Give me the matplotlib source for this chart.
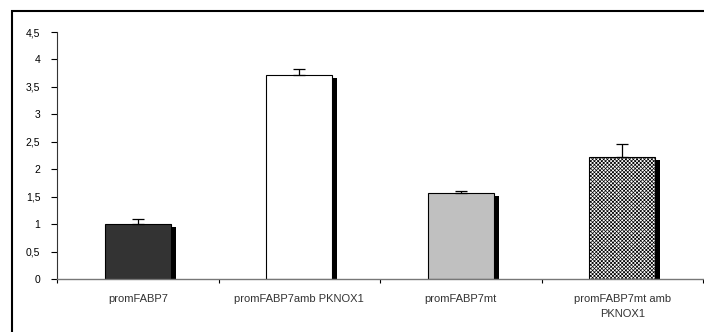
import matplotlib.pyplot as plt
from matplotlib.patches import Rectangle
import numpy as np

# data
labels = ['promFABP7', 'promFABP7amb PKNOX1', 'promFABP7mt', 'promFABP7mt amb\nPKNOX1']
values = [1.0, 3.71, 1.57, 2.22]
errors = [0.09, 0.12, 0.04, 0.24]
colors = ['#333333', '#ffffff', '#c0c0c0', '#ffffff']
hatches = [None, None, None, 'xxxxxxxxx']

plt.rcParams['font.family'] = ['Liberation Sans', 'DejaVu Sans']
plt.rcParams['hatch.color'] = '#a8a8a8'
plt.rcParams['hatch.linewidth'] = 0.5

fig = plt.figure(figsize=(7.04, 3.32), dpi=100)
ax = fig.add_axes([57/704, 53/332, 646/704, 247/332])

x = np.arange(len(values)) + 0.5
w = 0.41

# shadows
ax.bar(x + 0.03, np.array(values) - 0.05, width=w, bottom=0, color='black', zorder=1)
# bars
for xi, v, c, h in zip(x, values, colors, hatches):
    ax.bar(xi, v, width=w, color=c, edgecolor='black', linewidth=0.8, hatch=h, zorder=2)
ax.errorbar(x, values, yerr=[np.zeros(len(errors)), errors], fmt='none',
            ecolor='black', elinewidth=0.9, capsize=4, capthick=0.9, zorder=3)

ax.set_xlim(0, 4)
ax.set_ylim(0, 4.5)
ax.set_yticks(np.arange(0, 4.51, 0.5))
ax.set_yticklabels([('%g' % t).replace('.', ',') for t in np.arange(0, 4.51, 0.5)], fontsize=7.5)
ax.set_xticks(x)
ax.set_xticklabels(labels, fontsize=8, color='#333333', linespacing=1.6)
ax.set_xticks(np.arange(0, 5), minor=True)
ax.tick_params(axis='x', which='major', length=0, pad=11)
ax.tick_params(axis='x', which='minor', length=3, width=0.8, direction='out')
ax.tick_params(axis='y', length=4, width=0.8, pad=8)

for s in ['top', 'right']:
    ax.spines[s].set_visible(False)
ax.spines['left'].set_color('#333333')
ax.spines['bottom'].set_color('#777777')
ax.spines['bottom'].set_linewidth(1.0)

# outer frame
fig.patches.append(Rectangle((12/704, -0.1), 1.0, (332 - 11.5)/332 + 0.1,
                             transform=fig.transFigure, fill=False,
                             edgecolor='black', linewidth=1.5))

fig.savefig('out.png', dpi=100)
